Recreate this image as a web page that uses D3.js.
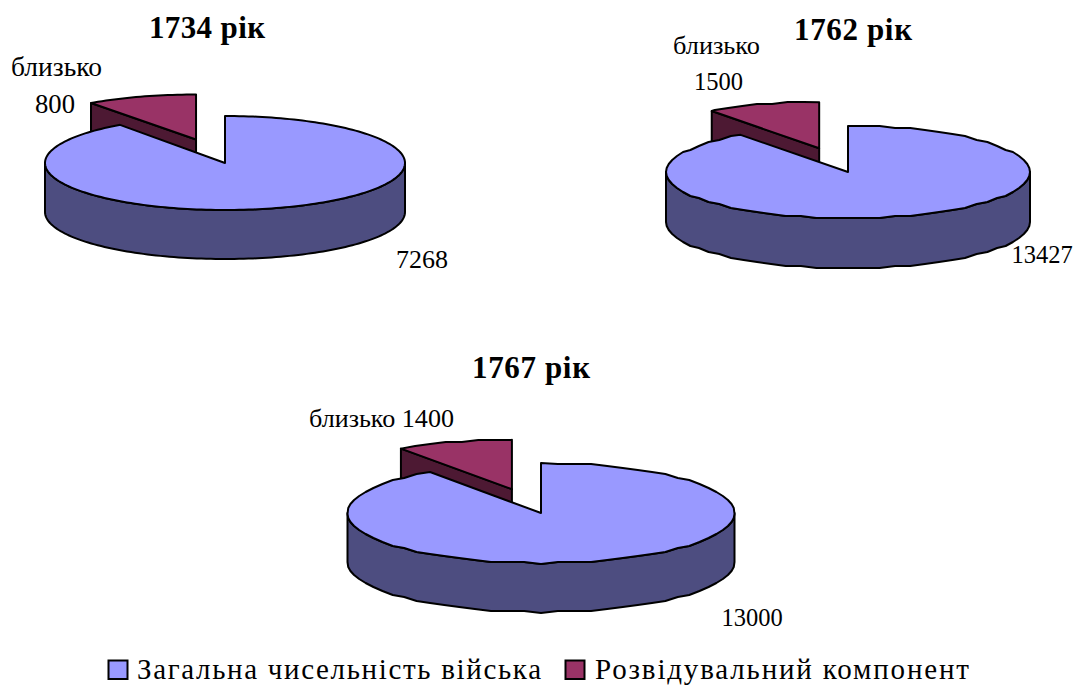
<!DOCTYPE html>
<html>
<head>
<meta charset="utf-8">
<script src="https://cdn.jsdelivr.net/npm/d3@7"></script>
<style>
  html, body { margin: 0; padding: 0; background: #fff; }
  text { font-family: "Liberation Serif", serif; fill: #000; }
</style>
</head>
<body>
<div id="chart-area"></div>
<script>
// STEP 1: data
const years = ["1734 рік", "1762 рік", "1767 рік"]
const totalArmy = [7268, 13427, 13000]
const reconComponent = [800, 1500, 1400]
const seriesNames = ["Загальна чисельність війська", "Розвідувальний компонент"]

const WIDTH = 1073, HEIGHT = 685
const DEG = Math.PI / 180

// one layout per pie (the originals were stretched differently)
// step = degrees per outline segment, grain = pixel snapping, gives the rough edge of pies 2 and 3
const layouts = [
  {cx:225, cy:163, rx:180, ry:47, depth:49, explode:.525, sliceRy:45, lift:0, step:1.5, grain:0, fs:26,
   title:[207,38,116], total:[422,268], recon:[["близько",56.5,76,91],["800",55,113,40]]},
  {cx:848, cy:172, rx:182, ry:46, depth:50, explode:.51, sliceRy:46, lift:-1.5, step:5, grain:2, fs:24.5,
   title:[853,40,118], total:[1042,263], recon:[["близько",716.5,54,87],["1500",718.5,90,49]]},
  {cx:541, cy:513, rx:193.5, ry:50, depth:49, explode:.5, sliceRy:49.5, lift:0, step:5, grain:2, fs:24.5,
   title:[531,378,118], total:[752,626], recon:[["близько 1400",381.5,427,145]]}
]

const colors = {
  main: {top:"#9999ff", side:"#4d4d80"},
  recon: {top:"#993366", side:"#4d1933"}
}

const svg = d3.select("#chart-area").append("svg")
  .attr("width", WIDTH)
  .attr("height", HEIGHT)
  .style("display", "block")

const pie = d3.pie().sort(null).value(d => d)
const line = d3.line()

// ---------------------------//
//            PIES            //
// ---------------------------//

years.forEach((year, i) => {
  const L = layouts[i]
  const g = svg.append("g")
  const arcs = pie([totalArmy[i], reconComponent[i]])
  const main = arcs[0], recon = arcs[1]

  // unit circle -> tilted screen ellipse
  const xScale = d3.scaleLinear().domain([-1, 1]).range([L.cx - L.rx, L.cx + L.rx])
  const yScale = d3.scaleLinear().domain([-1, 1]).range([L.cy - L.ry, L.cy + L.ry])
  const snap = v => L.grain ? Math.round(v / L.grain) * L.grain : v

  // angle 0 is 12 o'clock, clockwise like d3.pie. the slice is a bit flatter on pie 1
  const rim = (a, c, dz, rough) => {
    const x = c.x + L.rx * Math.sin(a)
    const y = c.y - c.ry * Math.cos(a)
    return [x, (rough ? snap(y) : y) + dz]
  }
  // samples on a fixed angle grid so top face and front wall share the same outline
  const arcPoints = (a0, a1, c, dz) => {
    const s = L.step * DEG, lo = Math.min(a0, a1), hi = Math.max(a0, a1)
    let inner = d3.range(Math.floor(lo / s) + 1, Math.ceil(hi / s)).map(k => k * s)
    if (a1 < a0) inner = inner.reverse()
    return [rim(a0, c, dz, false)]
      .concat(inner.map(a => rim(a, c, dz, true)))
      .concat([rim(a1, c, dz, false)])
  }
  const style = (sel, fill) => sel.attr("fill", fill)
    .attr("stroke", "#000").attr("stroke-width", 2).attr("stroke-linejoin", "round")

  // exploded slice goes behind the big one
  const mid = (recon.startAngle + recon.endAngle) / 2
  const apex = [
    xScale(L.explode * Math.sin(mid)),
    yScale(-L.explode * Math.cos(mid)) + L.lift
  ]
  const sliceC = {x: apex[0], y: apex[1], ry: L.sliceRy}
  const leftRim = rim(recon.startAngle, sliceC, 0, false)
  const wall = [leftRim, [leftRim[0], leftRim[1] + L.depth], [apex[0], apex[1] + L.depth], apex]
  style(g.append("path"), colors.recon.side).attr("d", line(wall) + "Z")
  const reconTop = [apex].concat(arcPoints(recon.startAngle, recon.endAngle, sliceC, 0))
  style(g.append("path"), colors.recon.top).attr("d", line(reconTop) + "Z")

  // front wall of the big slice, right extreme round to left extreme
  const mainC = {x: L.cx, y: L.cy, ry: L.ry}
  const front = arcPoints(Math.PI / 2, Math.PI * 1.5, mainC, 0)
    .concat(arcPoints(Math.PI * 1.5, Math.PI / 2, mainC, L.depth))
  style(g.append("path"), colors.main.side).attr("d", line(front) + "Z")

  const mainTop = [[L.cx, L.cy]]
    .concat(arcPoints(main.startAngle, main.endAngle, mainC, 0))
  style(g.append("path"), colors.main.top).attr("d", line(mainTop) + "Z")

  // ---------------------------//
  //           LABELS           //
  // ---------------------------//

  g.append("text")
    .attr("x", L.title[0]).attr("y", L.title[1])
    .attr("text-anchor", "middle")
    .attr("font-weight", "bold")
    .attr("font-size", 31)
    .attr("textLength", L.title[2])
    .attr("lengthAdjust", "spacing")
    .text(year)

  g.append("text")
    .attr("x", L.total[0]).attr("y", L.total[1])
    .attr("text-anchor", "middle")
    .attr("font-size", L.fs)
    .text(totalArmy[i])

  g.selectAll(".recon-label")
    .data(L.recon)
    .enter()
    .append("text")
    .attr("class", "recon-label")
    .attr("x", d => d[1]).attr("y", d => d[2])
    .attr("text-anchor", "middle")
    .attr("font-size", L.fs + 1)
    .attr("textLength", d => d[3])
    .attr("lengthAdjust", "spacingAndGlyphs")
    .text(d => d[0])
})

// ---------------------------//
//           LEGEND           //
// ---------------------------//

const legendLayout = [
  {box:108.5, text:137, width:404, fill:colors.main.top},
  {box:565.5, text:595, width:374, fill:colors.recon.top}
]

const legend = svg.selectAll(".legend")
  .data(seriesNames)
  .enter()
  .append("g")
  .attr("class", "legend")

legend.append("rect")
  .attr("x", (d, i) => legendLayout[i].box)
  .attr("y", 660.5)
  .attr("width", 19)
  .attr("height", 18.5)
  .attr("fill", (d, i) => legendLayout[i].fill)
  .attr("stroke", "#000")
  .attr("stroke-width", 2)

legend.append("text")
  .attr("x", (d, i) => legendLayout[i].text)
  .attr("y", 679)
  .attr("font-size", 29)
  .attr("textLength", (d, i) => legendLayout[i].width)
  .attr("lengthAdjust", "spacing")
  .text(d => d)
</script>
</body>
</html>
